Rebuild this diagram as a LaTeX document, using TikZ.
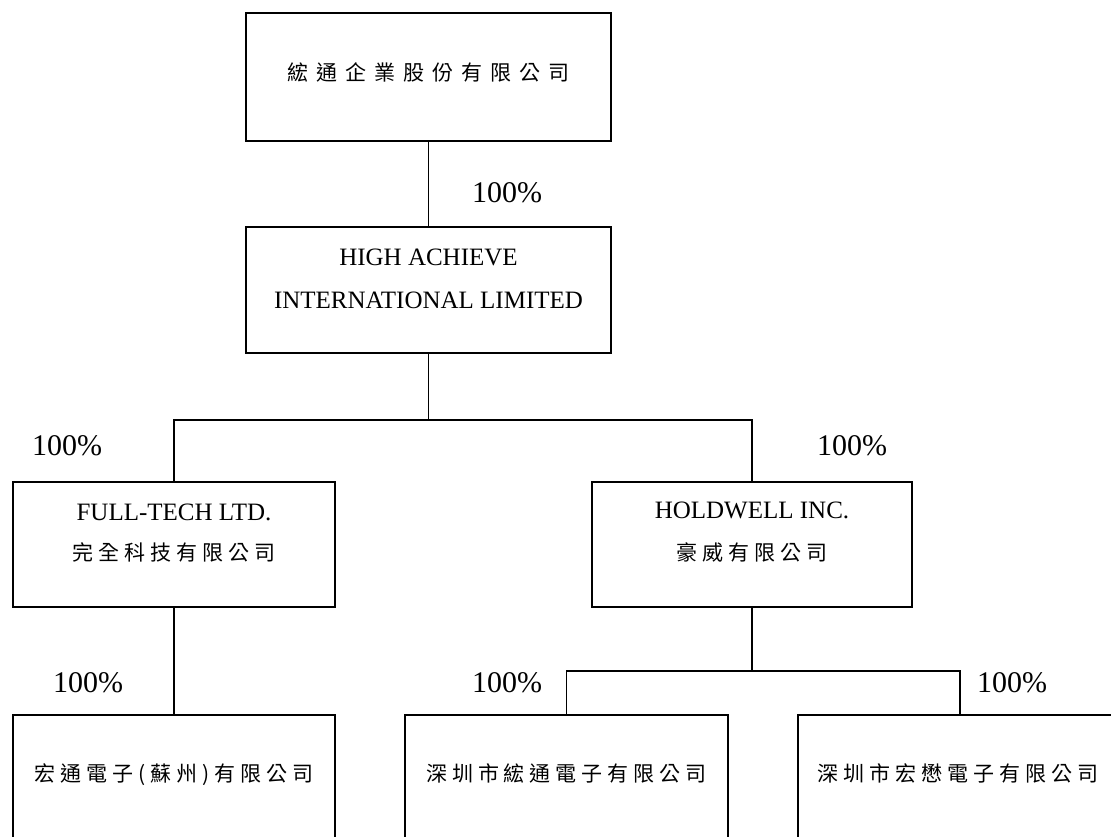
\documentclass[tikz,border=0pt]{standalone}
\usepackage{fontspec}
\setmainfont{Liberation Serif}
\newfontfamily\cjk{Noto Sans CJK TC}
\newlength\cjkgap
\setlength\cjkgap{5pt}
\makeatletter
\def\spaceout#1{\spaceout@#1\relax}
\def\spaceout@#1{\ifx#1\relax\kern-\cjkgap\else#1\kern\cjkgap\expandafter\spaceout@\fi}
\makeatother
\tikzset{
  box/.style={draw=black, line width=1.6pt, rectangle, inner sep=0pt, fill=none},
  entext/.style={anchor=base, inner sep=0pt, font=\fontsize{25}{30}\selectfont},
  zhtext/.style={anchor=base, inner sep=0pt, font=\cjk\fontsize{21}{25}\selectfont},
  pct/.style={anchor=base, inner sep=0pt, font=\fontsize{30}{36}\selectfont},
  link/.style={draw=black, line width=1.8pt}
}
\begin{document}
\begin{tikzpicture}[x=1pt,y=-1pt]
\useasboundingbox (0,0) rectangle (1111,836);
\clip (0,0) rectangle (1111,836);
\fill[white] (0,0) rectangle (1111,836);
% boxes
\node[box, minimum width=365pt, minimum height=128pt] (top) at (428.5,77) {};
\node[box, minimum width=365pt, minimum height=126pt] (high) at (428.5,290) {};
\node[box, minimum width=322pt, minimum height=125pt] (full) at (174,544.5) {};
\node[box, minimum width=320pt, minimum height=125pt] (hold) at (752,544.5) {};
\node[box, minimum width=322pt, minimum height=145pt] (b1) at (174,787.5) {};
\node[box, minimum width=323pt, minimum height=145pt] (b2) at (566.5,787.5) {};
\node[box, minimum width=324pt, minimum height=145pt] (b3) at (960,787.5) {};
% texts
\setlength\cjkgap{8pt}
\node[zhtext] (ttop) at (428.5,80) {\spaceout{綋通企業股份有限公司}};
\setlength\cjkgap{5pt}
\node[entext] (th1) at (428.5,265) {HIGH ACHIEVE};
\node[entext] (th2) at (428.5,308) {INTERNATIONAL LIMITED};
\node[entext] (tf1) at (174,520) {FULL-TECH LTD.};
\node[zhtext] (tf2) at (174,560) {\spaceout{完全科技有限公司}};
\node[entext] (tw1) at (752,518) {HOLDWELL INC.};
\node[zhtext] (tw2) at (752,560) {\spaceout{豪威有限公司}};
\node[zhtext] (tb1) at (174,781) {\spaceout{宏通電子(蘇州)有限公司}};
\node[zhtext] (tb2) at (566.5,781) {\spaceout{深圳市綋通電子有限公司}};
\node[zhtext] (tb3) at (958,781) {\spaceout{深圳市宏懋電子有限公司}};
% connectors
\coordinate (j1) at (428.5,420);
\coordinate (j2) at (752,671);
\draw[link] (top.south) -- (high.north);
\draw[link] (high.south) -- (j1);
\draw[link] (full.north) -- (full.north |- j1) -- (hold.north |- j1) -- (hold.north);
\draw[link] (full.south) -- (b1.north);
\draw[link] (hold.south) -- (j2);
\draw[link] (b2.north) -- (b2.north |- j2) -- (b3.north |- j2) -- (b3.north);
% percentages
\node[pct] (p1) at (507,202) {100\%};
\node[pct] (p2) at (67,455) {100\%};
\node[pct] (p3) at (852,455) {100\%};
\node[pct] (p4) at (88,692) {100\%};
\node[pct] (p5) at (507,692) {100\%};
\node[pct] (p6) at (1012,692) {100\%};
\end{tikzpicture}
\end{document}
